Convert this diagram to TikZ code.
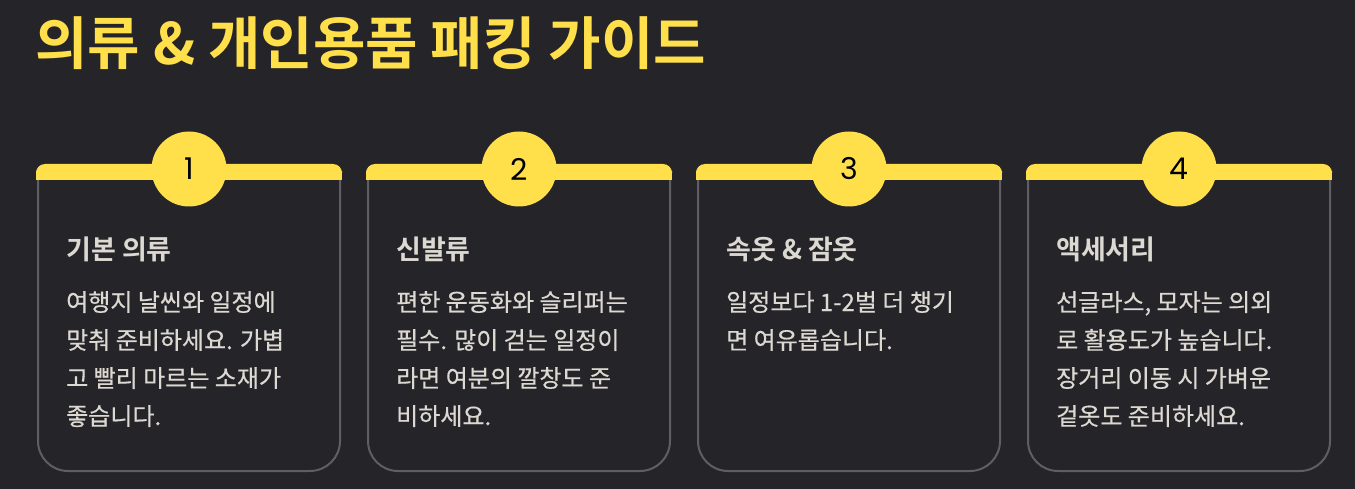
\documentclass[tikz,border=0pt]{standalone}
\usepackage{fontspec}
\usepackage{tikz}
\newfontfamily\krfont{Noto Sans CJK KR}[BoldFont={Noto Sans CJK KR Bold}]
\newfontfamily\krbody{Noto Sans CJK KR}[FakeBold=0.5]
\newfontfamily\numfont{Poppins}

\definecolor{pagebg}{RGB}{37,36,41}
\definecolor{accent}{RGB}{255,224,75}
\definecolor{cardgray}{RGB}{95,94,100}
\definecolor{softtext}{RGB}{220,217,210}

\begin{document}
\begin{tikzpicture}[x=1pt, y=-1pt,
    cardline/.style={draw=cardgray, line width=2pt, rounded corners=30pt},
    topbar/.style={fill=accent},
    numdot/.style={circle, fill=accent, minimum size=75pt, inner sep=0pt,
        text=black, font=\numfont\fontsize{30}{30}\selectfont},
    cardhead/.style={anchor=base west, inner sep=0pt, text=softtext,
        font=\krfont\bfseries\fontsize{27}{30}\selectfont},
    cardbody/.style={anchor=north west, inner sep=0pt, align=left, text=softtext,
        font=\krbody\fontsize{24}{38}\selectfont}]

    % Background, fixes the page size
    \fill[pagebg] (0,0) rectangle (1355,489);

    % Title
    \node[anchor=base west, inner sep=0pt, text=accent,
        font=\krfont\bfseries\fontsize{57}{60}\selectfont] (title) at (35,65)
        {의류 \& 개인용품 패킹 가이드};

    % Card 1: basic clothes
    \draw[cardline] (38,176) -- (38,471) -- (340,471) -- (340,176);
    \fill[topbar, rounded corners=9pt] (36,164) rectangle (342,180);
    \fill[topbar] (36,172) rectangle (342,180);
    \node[numdot] (n1) at (189,169) {1};
    \node[cardhead] (h1) at (66,259) {기본 의류};
    \node[cardbody] (b1) at (66,291) {여행지 날씬와 일정에\\맞춰 준비하세요. 가볍\\고 빨리 마르는 소재가\\좋습니다.};

    % Card 2: shoes
    \draw[cardline] (368,176) -- (368,471) -- (670,471) -- (670,176);
    \fill[topbar, rounded corners=9pt] (366,164) rectangle (672,180);
    \fill[topbar] (366,172) rectangle (672,180);
    \node[numdot] (n2) at (519,169) {2};
    \node[cardhead] (h2) at (396,259) {신발류};
    \node[cardbody] (b2) at (396,291) {편한 운동화와 슬리퍼는\\필수. 많이 걷는 일정이\\라면 여분의 깔창도 준\\비하세요.};

    % Card 3: underwear and sleepwear
    \draw[cardline] (698,176) -- (698,471) -- (1000,471) -- (1000,176);
    \fill[topbar, rounded corners=9pt] (696,164) rectangle (1002,180);
    \fill[topbar] (696,172) rectangle (1002,180);
    \node[numdot] (n3) at (849,169) {3};
    \node[cardhead] (h3) at (726,259) {속옷 \& 잠옷};
    \node[cardbody] (b3) at (726,291) {일정보다 1-2벌 더 챙기\\면 여유롭습니다.};

    % Card 4: accessories
    \draw[cardline] (1028,176) -- (1028,471) -- (1330,471) -- (1330,176);
    \fill[topbar, rounded corners=9pt] (1026,164) rectangle (1332,180);
    \fill[topbar] (1026,172) rectangle (1332,180);
    \node[numdot] (n4) at (1179,169) {4};
    \node[cardhead] (h4) at (1056,259) {액세서리};
    \node[cardbody] (b4) at (1056,291) {선글라스, 모자는 의외\\로 활용도가 높습니다.\\장거리 이동 시 가벼운\\겉옷도 준비하세요.};
\end{tikzpicture}
\end{document}
